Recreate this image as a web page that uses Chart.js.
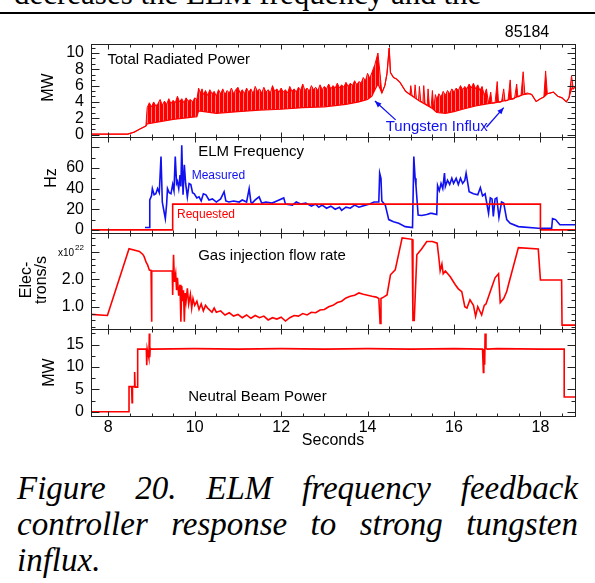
<!DOCTYPE html>
<html>
<head>
<meta charset="utf-8">
<script src="https://cdn.jsdelivr.net/npm/chart.js@4.4.1/dist/chart.umd.min.js"></script>
<style>
  body { margin: 0; background: #fff; width: 595px; height: 583px; overflow: hidden; position: relative; }
  #top-text { position: absolute; left: 14px; top: -22px; font: 31px/31px "Liberation Serif", serif; white-space: nowrap; color: #000; }
  #rule { position: absolute; left: 0; top: 12px; width: 595px; height: 2px; background: #000; }
  #chart { position: absolute; left: 0; top: 0; }
  #caption { position: absolute; left: 17px; top: 470px; width: 561px; font: italic 33px/36px "Liberation Serif", serif;
             text-align: justify; text-align-last: left; color: #000; }
</style>
</head>
<body>
<div id="top-text">decreases the ELM frequency and the</div>
<div id="rule"></div>
<canvas id="chart" width="595" height="460"></canvas>
<div id="caption">Figure 20. ELM frequency feedback controller response to strong tungsten influx.</div>
<script>
// Shot 85184 time traces (seconds)

// Total radiated power (MW): base level between ELMs ...
const radLowT = [7.6, 8.45, 8.6, 8.72, 8.87, 8.9, 9.5, 10.05, 10.09, 10.5, 11.0, 11.5, 12.0, 12.5, 13.0, 13.5,
  13.8, 14.0, 14.1, 14.17, 14.24, 14.29, 14.33, 14.4, 14.45, 14.5, 14.53, 14.6, 14.67, 14.75, 14.88, 14.98,
  15.2, 15.5, 15.6, 15.8, 16.0, 16.2, 16.5, 16.8, 17.0, 17.3, 17.6, 17.75, 17.8, 17.9, 18.0, 18.08, 18.16,
  18.3, 18.4, 18.5, 18.6, 18.66, 18.72, 18.76, 18.8];
const radLow = [0.05, 0.05, 0.3, 0.64, 1.05, 1.3, 1.85, 2.2, 2.9, 2.6, 2.8, 3.0, 3.1, 3.3, 3.4, 3.7,
  4.0, 4.3, 4.7, 5.5, 6.2, 5.6, 5.1, 6.0, 7.5, 10.6, 7.6, 7.0, 6.8, 6.4, 5.3, 4.9,
  4.1, 3.2, 2.7, 2.6, 2.8, 3.1, 3.5, 3.8, 3.95, 4.3, 4.9, 5.0, 4.9, 4.05, 4.4, 4.6, 5.0,
  5.2, 4.7, 4.5, 4.0, 4.5, 5.6, 5.6, 5.8];
// ... and the ELM burst peaks
const radHighT = [7.6, 8.45, 8.6, 8.72, 8.87,
  8.9, 8.95, 9.0, 9.05, 9.1, 9.15, 9.2, 9.25, 9.3, 9.35, 9.4, 9.45, 9.5, 9.55, 9.6, 9.65, 9.7, 9.75, 9.8, 9.85,
  9.9, 9.95, 10.0, 10.05,
  10.09, 10.13, 10.17, 10.2, 10.25, 10.3, 10.35, 10.4, 10.45, 10.5, 10.55, 10.6, 10.65, 10.7, 10.75, 10.8,
  10.85, 10.9, 10.95, 11.0, 11.05, 11.1, 11.15, 11.2, 11.25, 11.3, 11.35, 11.4, 11.45, 11.5, 11.55, 11.6,
  11.65, 11.7, 11.75, 11.8, 11.85, 11.9, 11.95, 12.0, 12.05, 12.1, 12.15, 12.2, 12.25, 12.3, 12.35, 12.4,
  12.45, 12.5, 12.55, 12.6, 12.65, 12.7, 12.75, 12.8, 12.85, 12.9, 12.95, 13.0, 13.05, 13.1, 13.15, 13.2,
  13.25, 13.3, 13.35, 13.4, 13.45, 13.5, 13.55, 13.6, 13.65, 13.7, 13.75, 13.8, 13.85, 13.9, 13.95, 14.0,
  14.05, 14.1,
  14.17, 14.24, 14.29, 14.33, 14.4, 14.45, 14.5, 14.53, 14.6, 14.67, 14.75, 14.88,
  14.98, 15.0, 15.03, 15.08, 15.1, 15.13, 15.18, 15.2, 15.23, 15.28, 15.3, 15.33, 15.38, 15.4, 15.43, 15.47,
  15.5, 15.53,
  15.57, 15.6, 15.65, 15.7, 15.75, 15.8, 15.85, 15.9, 15.95, 16.0, 16.05, 16.1, 16.15, 16.2, 16.25, 16.3,
  16.35, 16.4, 16.45, 16.5, 16.55, 16.6, 16.65, 16.7, 16.75,
  16.8, 16.85, 16.88, 16.95, 17.0, 17.03, 17.1, 17.15, 17.18, 17.25, 17.3, 17.33, 17.4, 17.45, 17.48, 17.55,
  17.6, 17.64, 17.7, 17.75, 17.8, 17.9, 18.0, 18.08, 18.12, 18.16, 18.3, 18.4, 18.5, 18.6, 18.66, 18.72,
  18.76, 18.8];
const radHigh = [0.05, 0.05, 0.3, 0.64, 1.05,
  3.3, 3.9, 3.4, 4.0, 3.5, 3.8, 4.3, 3.6, 4.1, 3.7, 4.4, 3.8, 4.2, 3.9, 4.7, 4.0, 4.4, 3.9, 4.5, 4.1,
  4.3, 4.0, 4.5, 4.3,
  5.7, 5.1, 5.6, 4.9, 5.4, 4.8, 5.5, 5.0, 5.3, 4.7, 5.5, 5.0, 5.6, 4.9, 5.4, 5.1,
  5.7, 5.0, 5.5, 5.8, 5.1, 5.5, 5.0, 5.7, 5.2, 5.6, 5.0, 5.9, 5.3, 5.6, 5.1, 5.8,
  5.2, 5.5, 5.1, 6.0, 5.3, 5.6, 5.2, 5.7, 5.2, 5.5, 5.1, 5.9, 5.3, 5.6, 5.2, 5.8,
  5.4, 6.2, 5.4, 5.7, 5.3, 6.0, 5.5, 5.8, 5.4, 6.1, 5.5, 5.9, 5.6, 6.2, 5.6, 6.0,
  5.7, 6.3, 5.7, 6.1, 5.8, 6.4, 5.9, 6.3, 6.0, 6.6, 6.1, 6.5, 6.3, 7.0, 6.6, 7.5,
  6.9, 7.6,
  8.6, 10.0, 7.4, 5.1, 6.0, 7.5, 10.6, 7.6, 7.0, 6.8, 6.4, 5.3,
  4.9, 6.0, 4.8, 4.6, 6.1, 4.4, 4.2, 5.9, 4.1, 3.9, 6.0, 3.8, 3.6, 5.6, 3.5, 3.3,
  5.4, 3.2,
  4.9, 4.3, 5.0, 4.6, 5.3, 4.8, 5.4, 5.0, 5.6, 5.2, 5.7, 5.4, 6.0, 5.5, 5.9, 5.6,
  6.2, 5.7, 6.3, 5.6, 6.1, 5.4, 5.9, 4.8, 5.6,
  3.8, 5.2, 3.85, 3.9, 6.5, 3.95, 4.0, 5.6, 4.1, 4.2, 6.7, 4.3, 4.4, 6.2, 4.6, 4.8,
  7.7, 5.0, 5.1, 5.0, 4.9, 4.05, 4.4, 4.6, 7.8, 5.0, 5.2, 4.7, 4.5, 4.0, 4.5, 7.2,
  5.6, 5.8];

// ELM frequency (Hz): requested by the controller and measured
const reqT = [7.6, 9.49, 9.49, 18.0, 18.0, 18.8];
const reqHz = [0, 0, 25, 25, 0, 0];
const elmT = [8.85, 8.95, 8.96, 9.0, 9.02, 9.06, 9.1, 9.14, 9.18, 9.22, 9.25, 9.28, 9.32, 9.35, 9.37, 9.41,
  9.45, 9.49, 9.52, 9.55, 9.58, 9.6, 9.63, 9.66, 9.68, 9.7, 9.73, 9.76, 9.79, 9.83, 9.87, 9.91, 9.95, 9.99,
  10.05, 10.1, 10.15, 10.2, 10.26, 10.33, 10.41, 10.5, 10.6, 10.68, 10.72, 10.79, 10.9, 11.03, 11.1, 11.2,
  11.26, 11.3, 11.33, 11.4, 11.49, 11.55, 11.65, 11.79, 11.9, 12.06, 12.1, 12.26, 12.35, 12.45, 12.57, 12.7,
  12.8, 12.87, 12.95, 13.05, 13.15, 13.25, 13.35, 13.4, 13.5, 13.6, 13.7, 13.8, 13.95, 14.05, 14.15, 14.26,
  14.28, 14.31, 14.33, 14.41, 14.49, 14.6, 14.72, 14.87, 15.04, 15.07, 15.1, 15.12, 15.17, 15.25, 15.37,
  15.45, 15.49, 15.6, 15.62, 15.66, 15.7, 15.74, 15.78, 15.8, 15.85, 15.9, 15.95, 15.99, 16.05, 16.1, 16.15,
  16.2, 16.25, 16.28, 16.32, 16.35, 16.45, 16.55, 16.61, 16.66, 16.72, 16.8, 16.84, 16.88, 16.91, 16.95,
  16.99, 17.04, 17.1, 17.15, 17.22, 17.3, 17.49, 17.95, 18.26, 18.28, 18.35, 18.45, 18.8];
const elmHz = [2.3, 2.3, 29, 33, 40, 34, 35, 40, 36, 71, 27, 20, 11, 25, 40, 36,
  35, 44, 38, 71, 45, 47, 40, 53, 42, 82, 34, 63, 45, 32, 45, 44, 36, 35,
  31, 32, 28, 35, 34, 29, 30, 27, 30, 37, 28, 27, 28, 27, 29, 27,
  40, 27, 26, 29, 32, 26, 27, 26, 28, 31, 25, 24, 27, 25, 26, 23,
  25, 22, 24, 21, 23, 20, 22, 19, 22, 21, 24, 22, 24, 25, 27, 27,
  55, 50, 28, 24, 10, 8, 6.4, 3.2, 2.3, 71, 50, 43, 14.5, 14, 15,
  16, 16, 15, 43, 38, 45, 40, 55, 42, 48, 44, 50, 45, 50, 44, 50,
  45, 48, 55, 45, 37, 35, 34, 41, 33, 35, 16, 31, 30, 13, 30,
  31, 12, 27, 26, 10, 6.4, 3.2, 1.6, 1.6, 11, 10, 5, 5];

// Gas injection flow rate (1e22 electrons/s)
const gasT = [7.6, 7.98, 8.48, 8.72, 8.8, 8.83, 8.88, 8.91, 8.95, 8.99, 9.0, 9.01, 9.48, 9.49, 9.51, 9.53,
  9.56, 9.58, 9.6, 9.63, 9.66, 9.68, 9.7, 9.72, 9.74, 9.76, 9.78, 9.8, 9.83, 9.86, 9.9, 9.93, 9.96, 10.0,
  10.05, 10.1, 10.15, 10.2, 10.25, 10.3, 10.4, 10.45, 10.5, 10.6, 10.7, 10.8, 10.9, 11.0, 11.1, 11.2, 11.3,
  11.4, 11.5, 11.6, 11.7, 11.8, 11.9, 12.0, 12.1, 12.2, 12.3, 12.4, 12.5, 12.6, 12.7, 12.8, 12.9, 13.0,
  13.1, 13.2, 13.3, 13.4, 13.5, 13.6, 13.7, 13.8, 13.9, 14.0, 14.1, 14.2, 14.26, 14.29, 14.31, 14.37,
  14.45, 14.53, 14.64, 14.8, 15.03, 15.05, 15.08, 15.14, 15.25, 15.37, 15.5, 15.61, 15.65, 15.68, 15.72,
  15.75, 15.8, 15.91, 16.03, 16.1, 16.18, 16.25, 16.3, 16.37, 16.45, 16.5, 16.55, 16.64, 16.7, 16.74,
  16.84, 16.95, 17.03, 17.07, 17.15, 17.22, 17.26, 17.49, 17.95, 18.0, 18.49, 18.5, 18.8];
const gasFlow = [0.72, 0.68, 3.11, 3.01, 2.9, 2.82, 2.6, 2.52, 2.33, 2.32, 0.45, 2.31, 2.3, 1.43, 2.89, 1.9,
  2.2, 1.6, 2.05, 1.4, 1.8, 0.45, 1.75, 1.2, 1.6, 0.45, 1.5, 1.2, 1.67, 1.1, 1.45, 0.95, 1.3, 1.05,
  1.2, 0.9, 1.1, 0.85, 1.05, 0.95, 0.8, 0.95, 0.8, 0.85, 0.7, 0.78, 0.66, 0.72, 0.6, 0.7, 0.58,
  0.68, 0.6, 0.66, 0.52, 0.6, 0.55, 0.62, 0.48, 0.6, 0.68, 0.66, 0.75, 0.7, 0.8, 0.78, 0.88, 0.9,
  1.0, 1.05, 1.15, 1.2, 1.32, 1.38, 1.42, 1.5, 1.45, 1.42, 1.38, 1.35, 1.3, 0.39, 1.3, 1.35,
  1.43, 2.16, 2.34, 3.5, 3.45, 0.5, 0.5, 2.89, 3.1, 3.37, 3.37, 3.31, 2.77, 2.3, 2.55,
  2.2, 2.3, 2.1, 1.8, 1.65, 1.55, 1.0, 0.95, 1.25, 1.05, 0.65, 1.0, 0.7, 1.05, 1.1,
  1.55, 2.05, 2.2, 1.15, 1.3, 1.55, 1.8, 3.15, 3.1, 1.97, 1.97, 0.33, 0.33];

// Neutral beam power (MW)
const nbT = [7.6, 8.48, 8.48, 8.54, 8.55, 8.56, 8.6, 8.61, 8.62, 8.68, 8.68, 8.88, 8.89, 8.9, 8.94, 8.95,
  8.96, 8.97, 9.0, 10, 11, 12, 13, 14, 15, 16, 16.66, 16.68, 16.69, 16.71, 16.72, 16.74, 16.77, 17, 18,
  18.55, 18.55, 18.8];
const nbPower = [0, 0, 5.6, 5.6, 2.0, 5.6, 5.6, 8.9, 5.5, 5.5, 14.0, 14.0, 10.4, 14.0, 12.0, 17.5,
  12.2, 14.2, 14.0, 14.1, 14.0, 14.1, 14.0, 14.1, 14.0, 14.1, 14.0, 8.8, 14.0, 10.5, 17.5, 14.2, 14.0, 14.1, 14.0,
  14.0, 3.3, 3.3];

// Axis ticks
const timeTicks = [8, 10, 12, 14, 16, 18];
const radTicks = [0, 2, 4, 6, 8, 10];
const elmTicks = [0, 20, 40, 60];
const gasTicks = [1, 2];
const nbTicks = [0, 5, 10, 15];

const RED = "#ff0000";
const BLUE = "#1010f0";
const FONT = "Liberation Sans";

const toPoints = (xs, ys) => xs.map((t, i) => ({ x: t, y: ys[i] }));

// striped red so the burst band keeps its comb look
const stripe = document.createElement("canvas");
stripe.width = 4;
stripe.height = 1;
const sctx = stripe.getContext("2d");
sctx.fillStyle = RED;
sctx.fillRect(0, 0, 3, 1);
sctx.fillStyle = "#ff8080";
sctx.fillRect(3, 0, 1, 1);
const bandFill = sctx.createPattern(stripe, "repeat");

// one stacked y axis per panel, top to bottom
function panelAxis(order, height, min, max, ticks, fmt) {
  return {
    type: "linear",
    position: "left",
    stack: "panels",
    stackWeight: height,
    weight: order,
    min: min,
    max: max,
    grid: { display: false, drawTicks: false },
    border: { display: false },
    afterBuildTicks: (s) => { s.ticks = ticks.map(v => ({ value: v })); },
    afterFit: (s) => { s.width = 91; },
    ticks: {
      autoSkip: false,
      padding: 7,
      color: "#000",
      font: { family: FONT, size: 16 },
      callback: fmt || ((v) => v)
    }
  };
}

// frame and inward ticks of every panel
const panelSetup = [
  { id: "yRad", major: 2, minor: 2 / 3 },
  { id: "yElm", major: 20, minor: 10 },
  { id: "yGas", major: 1, minor: 0.25 },
  { id: "yNb", major: 5, minor: 2.5 }
];

const panelFrame = {
  id: "panelFrame",
  afterDatasetsDraw(chart) {
    const { ctx, chartArea, scales } = chart;
    const xs = scales.x;
    const seg = (x1, y1, x2, y2) => { ctx.beginPath(); ctx.moveTo(x1, y1); ctx.lineTo(x2, y2); ctx.stroke(); };
    ctx.save();
    ctx.strokeStyle = "#222";
    ctx.lineWidth = 1;
    panelSetup.forEach(p => {
      const s = scales[p.id];
      const top = Math.round(s.top) + 0.5;
      const bottom = Math.round(s.bottom) + 0.5;
      const left = Math.round(chartArea.left) + 0.5;
      const right = Math.round(chartArea.right) + 0.5;
      ctx.strokeRect(left, top, right - left, bottom - top);
      for (let t = 8; t <= 18.5; t += 0.5) {
        const px = Math.round(xs.getPixelForValue(t)) + 0.5;
        const len = t % 2 === 0 ? 5 : 3;
        seg(px, top, px, top + len);
        seg(px, bottom, px, bottom - len);
      }
      const first = Math.ceil(s.min / p.minor - 1e-6);
      for (let k = first; k * p.minor <= s.max + 1e-6; k++) {
        const v = k * p.minor;
        const py = Math.round(s.getPixelForValue(v)) + 0.5;
        const r = v / p.major;
        const len = Math.abs(r - Math.round(r)) < 1e-6 ? 8 : 4;
        seg(left, py, left + len, py);
        seg(right, py, right - len, py);
      }
    });
    ctx.restore();
  }
};

const labels = {
  id: "labels",
  afterDraw(chart) {
    const { ctx, scales } = chart;
    const { x, yRad, yElm, yGas, yNb } = scales;
    ctx.save();
    ctx.textBaseline = "middle";
    ctx.textAlign = "left";
    const put = (txt, t, s, v, color, size) => {
      ctx.font = `${size}px "${FONT}"`;
      ctx.fillStyle = color;
      ctx.fillText(txt, x.getPixelForValue(t), s.getPixelForValue(v));
    };
    put("Total Radiated Power", 7.98, yRad, 9.2, "#000", 15);
    put("ELM Frequency", 10.08, yElm, 75.6, "#000", 15);
    put("Measured", 9.93, yElm, 53, BLUE, 12);
    put("Requested", 9.59, yElm, 14.5, RED, 12);
    put("Gas injection flow rate", 10.08, yGas, 2.86, "#000", 15);
    put("Neutral Beam Power", 9.85, yNb, 3.3, "#000", 15);
    put("Tungsten Influx", 14.42, yRad, 0.9, BLUE, 15);

    // arrows from the tungsten label to the radiation bursts
    const arrow = (t1, v1, t2, v2) => {
      const x1 = x.getPixelForValue(t1), y1 = yRad.getPixelForValue(v1);
      const x2 = x.getPixelForValue(t2), y2 = yRad.getPixelForValue(v2);
      const a = Math.atan2(y2 - y1, x2 - x1);
      ctx.strokeStyle = BLUE;
      ctx.fillStyle = BLUE;
      ctx.lineWidth = 1.3;
      ctx.beginPath(); ctx.moveTo(x1, y1); ctx.lineTo(x2, y2); ctx.stroke();
      ctx.beginPath();
      ctx.moveTo(x2, y2);
      ctx.lineTo(x2 - 7 * Math.cos(a - 0.4), y2 - 7 * Math.sin(a - 0.4));
      ctx.lineTo(x2 - 7 * Math.cos(a + 0.4), y2 - 7 * Math.sin(a + 0.4));
      ctx.closePath(); ctx.fill();
    };
    arrow(14.65, 1.8, 14.17, 4.1);
    arrow(16.75, 0.9, 17.15, 3.3);

    // axis titles
    ctx.fillStyle = "#000";
    ctx.textAlign = "center";
    ctx.font = `16px "${FONT}"`;
    ctx.fillText("Seconds", (chart.chartArea.left + chart.chartArea.right) / 2, 441);
    ctx.fillText("85184", 527, 33);
    const vertical = (txt, px, py) => {
      ctx.save(); ctx.translate(px, py); ctx.rotate(-Math.PI / 2); ctx.fillText(txt, 0, 0); ctx.restore();
    };
    vertical("MW", 49, (yRad.top + yRad.bottom) / 2 - 3);
    vertical("Hz", 52, (yElm.top + yElm.bottom) / 2 - 7);
    vertical("Elec-", 27, (yGas.top + yGas.bottom) / 2 - 1);
    vertical("trons/s", 42, (yGas.top + yGas.bottom) / 2 - 1);
    vertical("MW", 50, (yNb.top + yNb.bottom) / 2);

    // exponent of the gas axis
    ctx.textAlign = "left";
    ctx.font = `10px "${FONT}"`;
    ctx.fillText("x10", 58, 253);
    ctx.font = `8px "${FONT}"`;
    ctx.fillText("22", 75, 248);
    ctx.restore();
  }
};

new Chart(document.getElementById("chart"), {
  type: "line",
  data: {
    datasets: [
      { data: toPoints(radLowT, radLow), yAxisID: "yRad", borderColor: RED, borderWidth: 1.2 },
      { data: toPoints(radHighT, radHigh), yAxisID: "yRad", borderColor: RED, borderWidth: 1, fill: "-1", backgroundColor: bandFill },
      { data: toPoints(reqT, reqHz), yAxisID: "yElm", borderColor: RED },
      { data: toPoints(elmT, elmHz), yAxisID: "yElm", borderColor: BLUE },
      { data: toPoints(gasT, gasFlow), yAxisID: "yGas", borderColor: RED },
      { data: toPoints(nbT, nbPower), yAxisID: "yNb", borderColor: RED }
    ]
  },
  options: {
    responsive: false,
    animation: false,
    layout: { padding: { left: 0, right: 20, top: 44, bottom: 0 } },
    plugins: { legend: { display: false }, tooltip: { enabled: false } },
    elements: { point: { radius: 0 }, line: { tension: 0, borderWidth: 1.6 } },
    scales: {
      x: {
        type: "linear",
        min: 7.6,
        max: 18.8,
        grid: { display: false, drawTicks: false },
        border: { display: false },
        afterBuildTicks: (s) => { s.ticks = timeTicks.map(v => ({ value: v })); },
        afterFit: (s) => { s.height = 44; },
        ticks: { autoSkip: false, maxRotation: 0, padding: 2, color: "#000", font: { family: FONT, size: 16 } }
      },
      yRad: panelAxis(4, 93, -0.3, 11.1, radTicks),
      yElm: panelAxis(3, 96, -3, 90, elmTicks),
      yGas: panelAxis(2, 96, 0.19, 3.68, gasTicks, (v) => v.toFixed(1)),
      yNb: panelAxis(1, 87, -0.96, 18.5, nbTicks)
    }
  },
  plugins: [panelFrame, labels]
});
</script>
</body>
</html>
